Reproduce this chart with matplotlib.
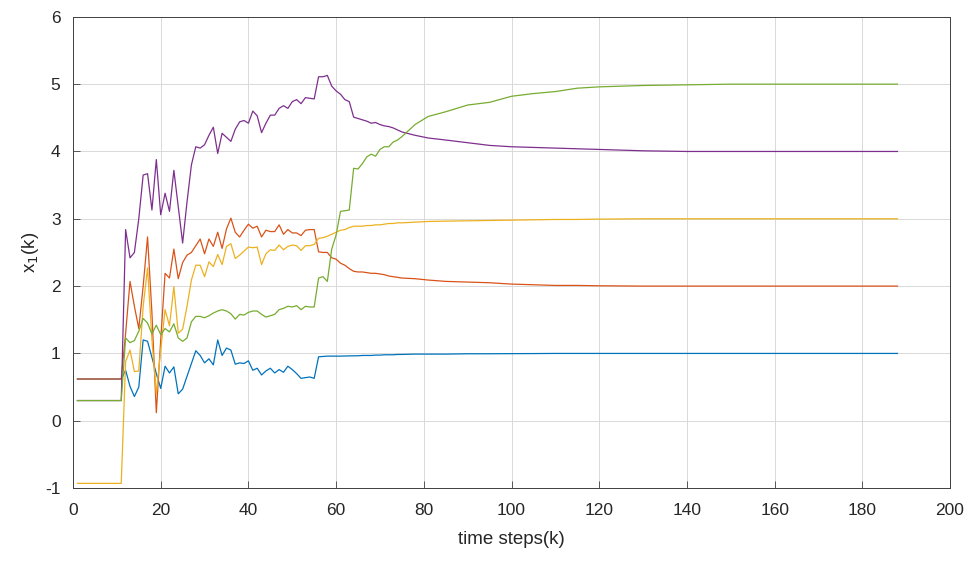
import matplotlib
matplotlib.use('Agg')
import matplotlib.pyplot as plt

plt.rcParams['font.family'] = ['Liberation Sans', 'DejaVu Sans']
plt.rcParams['axes.unicode_minus'] = False

# time steps (dense where the states fluctuate, sparse on the smooth tail)
k = [1, 11] + list(range(12, 76)) + [78, 81, 85, 90, 95, 100, 105, 110, 115, 120, 130, 140, 150, 160, 188]

x_blue = [0.62, 0.62,
          0.75, 0.51, 0.36, 0.50, 1.20, 1.18, 0.94, 0.70, 0.48, 0.81,
          0.71, 0.80, 0.40, 0.47, 0.66, 0.85, 1.04, 0.97, 0.86, 0.92,
          0.83, 1.20, 0.97, 1.08, 1.05, 0.84, 0.86, 0.85, 0.89, 0.75,
          0.78, 0.68, 0.74, 0.78, 0.71, 0.76, 0.72, 0.81, 0.76, 0.70,
          0.63, 0.64, 0.65, 0.63, 0.95, 0.955, 0.96, 0.96, 0.96, 0.96,
          0.962, 0.963, 0.965, 0.965, 0.97, 0.97, 0.97, 0.975, 0.975, 0.98,
          0.98, 0.98, 0.985, 0.985,
          0.99, 0.99, 0.99, 0.995, 0.995, 0.997, 0.998, 1.0, 1.0, 1.0, 1.0, 1.0, 1.0, 1.0, 1.0]

x_red = [0.62, 0.62,
         1.30, 2.07, 1.70, 1.37, 2.00, 2.73, 1.60, 0.12, 1.20, 2.19,
         2.12, 2.55, 2.11, 2.35, 2.46, 2.50, 2.60, 2.70, 2.48, 2.70,
         2.59, 2.80, 2.56, 2.85, 3.01, 2.80, 2.73, 2.83, 2.92, 2.86,
         2.89, 2.73, 2.83, 2.81, 2.81, 2.91, 2.77, 2.84, 2.79, 2.79,
         2.75, 2.83, 2.84, 2.84, 2.51, 2.50, 2.50, 2.42, 2.40, 2.34,
         2.31, 2.26, 2.22, 2.21, 2.21, 2.20, 2.19, 2.19, 2.18, 2.17,
         2.15, 2.14, 2.13, 2.12,
         2.11, 2.09, 2.07, 2.06, 2.05, 2.03, 2.02, 2.01, 2.01, 2.005, 2.0, 2.0, 2.0, 2.0, 2.0]

x_yellow = [-0.93, -0.93,
            0.88, 1.05, 0.73, 0.74, 1.70, 2.27, 1.20, 0.40, 1.05, 1.65,
            1.41, 1.99, 1.30, 1.36, 1.70, 2.09, 2.31, 2.31, 2.14, 2.36,
            2.29, 2.47, 2.32, 2.59, 2.63, 2.41, 2.46, 2.52, 2.58, 2.57,
            2.58, 2.32, 2.48, 2.54, 2.53, 2.61, 2.54, 2.59, 2.61, 2.60,
            2.53, 2.60, 2.60, 2.62, 2.71, 2.72, 2.74, 2.77, 2.80, 2.83,
            2.84, 2.87, 2.89, 2.89, 2.89, 2.90, 2.90, 2.91, 2.91, 2.92,
            2.93, 2.93, 2.94, 2.94,
            2.95, 2.96, 2.965, 2.97, 2.975, 2.98, 2.985, 2.99, 2.99, 2.995, 3.0, 3.0, 3.0, 3.0, 3.0]

x_purple = [0.30, 0.30,
            2.84, 2.42, 2.50, 3.00, 3.65, 3.67, 3.13, 3.88, 3.06, 3.38,
            3.11, 3.72, 3.18, 2.64, 3.25, 3.80, 4.07, 4.05, 4.10, 4.24,
            4.36, 3.97, 4.27, 4.21, 4.15, 4.33, 4.44, 4.46, 4.42, 4.60,
            4.53, 4.28, 4.42, 4.54, 4.54, 4.64, 4.68, 4.64, 4.74, 4.77,
            4.71, 4.80, 4.79, 4.78, 5.11, 5.11, 5.13, 4.97, 4.90, 4.85,
            4.77, 4.74, 4.51, 4.49, 4.47, 4.45, 4.42, 4.43, 4.40, 4.38,
            4.37, 4.35, 4.32, 4.29,
            4.24, 4.20, 4.17, 4.13, 4.09, 4.07, 4.06, 4.05, 4.04, 4.03, 4.01, 4.0, 4.0, 4.0, 4.0]

x_green = [0.30, 0.30,
           1.23, 1.16, 1.19, 1.33, 1.52, 1.45, 1.29, 1.42, 1.28, 1.37,
           1.32, 1.44, 1.23, 1.18, 1.23, 1.47, 1.55, 1.55, 1.53, 1.56,
           1.60, 1.63, 1.65, 1.63, 1.59, 1.51, 1.58, 1.57, 1.61, 1.63,
           1.63, 1.58, 1.54, 1.56, 1.58, 1.65, 1.67, 1.70, 1.69, 1.71,
           1.65, 1.70, 1.69, 1.69, 2.12, 2.14, 2.07, 2.55, 2.76, 3.11,
           3.12, 3.13, 3.75, 3.74, 3.82, 3.92, 3.96, 3.93, 4.03, 4.07,
           4.07, 4.14, 4.17, 4.22,
           4.40, 4.52, 4.59, 4.69, 4.73, 4.82, 4.86, 4.89, 4.94, 4.96, 4.98, 4.99, 5.0, 5.0, 5.0]

colors = ['#0072BD', '#D95319', '#EDB120', '#7E2F8E', '#77AC30']

fig = plt.figure(figsize=(9.76, 5.61), dpi=100)
ax = fig.add_axes([0.0748, 0.130, 0.8986, 0.840])

for series, c in zip([x_blue, x_red, x_yellow, x_purple, x_green], colors):
    ax.plot(k, series, color=c, lw=0.9)

ax.set_xlim(0, 200)
ax.set_ylim(-1, 6)
ax.set_xticks(range(0, 201, 20))
ax.set_yticks(range(-1, 7))
ax.grid(True, color='#d9d9d9', lw=0.7)
ax.set_axisbelow(True)
ax.tick_params(direction='in', length=5, width=0.6, colors='#404040',
               labelcolor='#262626', labelsize=12.5, top=False, right=False)
ax.tick_params(axis='x', pad=11)
ax.tick_params(axis='y', pad=9)
for s in ax.spines.values():
    s.set_color('#404040')
    s.set_linewidth(0.7)

ax.set_xlabel('time steps(k)', fontsize=13.5, color='#262626', labelpad=9)
ax.set_ylabel('x$_1$(k)', fontsize=13.5, color='#262626', labelpad=3)

fig.savefig('out.png', dpi=100)
